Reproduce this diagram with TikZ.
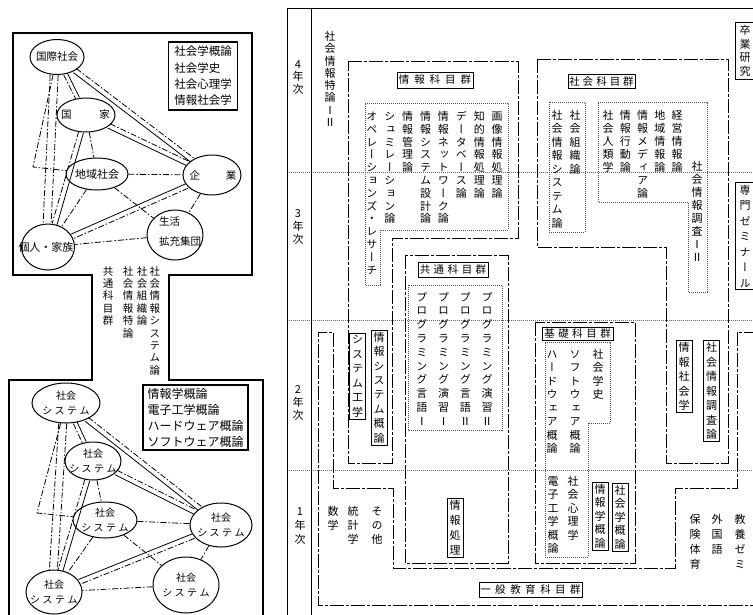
\documentclass[tikz,border=0pt]{standalone}
\usepackage{fontspec}
\usetikzlibrary{shapes.geometric}
\newfontfamily\jp{Noto Sans CJK JP}
\newfontfamily\vjp[RawFeature=+vert]{Noto Sans CJK JP}
\newdimen\lsk
\makeatletter
\def\vt@loop#1{\ifx#1\relax\else\hbox to 1em{\hss#1\hss}\expandafter\vt@loop\fi}
\newcommand\vtxt[2][13pt]{\vtop{\baselineskip=#1\lineskiplimit=-50pt\lineskip=0pt\vt@loop#2\relax}}
\newcommand\ls[2][3.5pt]{\lsk=#1\relax\ls@a#2\relax}
\def\ls@a#1{#1\ls@b}
\def\ls@b#1{\ifx#1\relax\else\kern\lsk#1\expandafter\ls@b\fi}
\makeatother
\newcommand\cg[1]{\hskip#1\relax}
\tikzset{
  vcol/.style={inner sep=0pt, anchor=north, font=\vjp\fontsize{11}{13}\selectfont},
  vbox/.style={draw, line width=0.6pt, inner xsep=2.5pt, inner ysep=2pt, font=\vjp\fontsize{11}{13}\selectfont},
  hlab/.style={draw, line width=0.6pt, inner sep=1pt, font=\jp\fontsize{10.5}{12}\selectfont},
  grp/.style={line width=0.8pt, dash pattern=on 14pt off 2pt on 3pt off 2pt},
  inbox/.style={line width=0.5pt, dash pattern=on 1pt off 1pt, black!70},
  yrline/.style={line width=0.5pt, dash pattern=on 1pt off 1pt, black!60},
  rfrm/.style={line width=0.9pt},
  lfrm/.style={line width=1.2pt, line join=miter},
  ell/.style 2 args={ellipse, draw, line width=1pt, inner sep=0pt, minimum width=#1, minimum height=#2},
  gtxt/.style={inner sep=0pt, align=center, font=\jp\fontsize{10.5}{13}\selectfont},
  lbox/.style={draw, line width=1.1pt, align=left, inner sep=0pt},
  dd/.style={line width=0.8pt, dash pattern=on 6pt off 2pt on 1.5pt off 2pt},
  sl/.style={line width=0.8pt},
  pp/.style={transform canvas={shift={#1}}}
}
\newcommand\net[7]{%
 \draw[dd,pp={(1.5,-2)}] (#1) -- (#4);%
 \draw[sl,pp={(-1.5,2)}] (#1) -- (#4);%
 \draw[sl,pp={(1.8,-0.9)}] (#1) -- (#2);%
 \draw[dd,pp={(-1.8,0.9)}] (#1) -- (#2);%
 \draw[dd,pp={(-6,0)}] (#1) -- (#6);%
 \draw[dd,pp={(2,0)}] (#1) -- (#6);%
 \draw[dd] (#1) -- (#7) -- (#3);%
 \draw[dd,pp={(1.1,-2.2)}] (#2) -- (#4);%
 \draw[sl,pp={(-1.1,2.2)}] (#2) -- (#4);%
 \draw[dd] (#2) -- (#3);%
 \draw[sl,pp={(2.4,0.7)}] (#2) -- (#6);%
 \draw[dd,pp={(-2.4,-0.7)}] (#2) -- (#6);%
 \draw[dd] (#3) -- (#4);%
 \draw[dd] (#3) -- (#6);%
 \draw[dd] (#3) -- (#5);%
 \draw[dd] (#4) -- (#5);%
 \draw[sl,pp={(-1,-2.3)}] (#4) -- (#6);%
 \draw[dd,pp={(1,2.3)}] (#4) -- (#6);%
 \draw[dd] (#5) -- (#6);%
}
\begin{document}
\begin{tikzpicture}[x=1pt,y=-1pt]
\path[use as bounding box, fill=white] (0,0) rectangle (753,614);
% ---------------- left panel ----------------
\draw[lfrm] (9,616) -- (9,380) -- (92,380) -- (92,275) -- (13,275) -- (13,33) -- (252,33) -- (252,275) -- (169,275) -- (169,380) -- (263,380) -- (263,616);
% upper network
\node[ell={54}{35}] (A) at (57,57) {};
\node[ell={58}{34}] (B) at (86,115) {};
\node[ell={62}{32}] (C) at (97,174) {};
\node[ell={58}{40}] (D) at (212,175) {};
\node[ell={56}{50}] (E) at (175,235) {};
\node[ell={53}{46}] (F) at (48,247) {};
\coordinate (Ae) at (33,167);
\net{A}{B}{C}{D}{E}{F}{Ae}
\node[gtxt] (At) at (A) {国際社会};
\node[gtxt] (Bt) at (85.5,115) {国\hspace{28pt}家};
\node[gtxt, font=\jp\fontsize{11}{13}\selectfont] (Ct) at (C) {地域社会};
\node[gtxt] (Dt) at (213,175) {企\hspace{26pt}業};
\node[gtxt, align=left, font=\jp\fontsize{10.5}{20}\selectfont] (Et) at (180,232) {生活\\拡充集団};
\node[gtxt, font=\jp\fontsize{11}{13}\selectfont] (Ft) at (46,247) {個人・家族};
\node[lbox, font=\jp\fontsize{11.5}{16.3}\selectfont, minimum width=69, minimum height=68] (K1) at (203,76) {社会学概論\\社会学史\\社会心理学\\情報社会学};
% neck text
\node[vcol, font=\vjp\fontsize{10.5}{12}\selectfont] (Nk) at (131.5,266) {\vtxt[12.4pt]{共通科目群}\cg{9.5pt}\vtxt[12.4pt]{社会情報特論}\cg{3.5pt}\vtxt[12.4pt]{社会組織論}\cg{2.5pt}\vtxt[12.4pt]{社会情報システム論}};
% lower network
\node[ell={68}{40}] (S1) at (66,403) {};
\node[ell={56}{38}] (S2) at (93,461) {};
\node[ell={64}{36}] (S3) at (105,520) {};
\node[ell={62}{44}] (S4) at (221,525) {};
\node[ell={66}{56}] (S5) at (186,585) {};
\node[ell={56}{44}] (S6) at (54,592) {};
\coordinate (Se) at (37,513);
\net{S1}{S2}{S3}{S4}{S5}{S6}{Se}
\foreach \s in {S1,S2,S3,S4,S5,S6}
  \node[gtxt, font=\jp\fontsize{10}{15}\selectfont] (\s t) at (\s) {社会\\\ls[2.5pt]{システム}};
\node[lbox, font=\jp\fontsize{12}{16}\selectfont, minimum width=105, minimum height=65] (K2) at (195.5,417.5) {情報学概論\\電子工学概論\\ハードウェア概論\\ソフトウェア概論};
% ---------------- right panel ----------------
\foreach \yy in {172,320,470} \draw[yrline] (287,\yy) -- (753,\yy);
\draw[rfrm] (755,8) -- (287,8) -- (287,616);
\draw[rfrm] (311,8) -- (311,616);
% group outlines
\draw[grp] (348,61) -- (518,61) -- (518,238) -- (392,238) -- (392,463) -- (348,463) -- cycle;
\draw[grp] (405,255) rectangle (508,563);
\draw[grp] (537,59) -- (728,59) -- (728,463) -- (666,463) -- (666,247) -- (537,247) -- cycle;
\draw[grp] (535,322) rectangle (635,563);
\draw[grp] (758,332) -- (737,332) -- (737,488) -- (675,488) -- (675,568) -- (393,568) -- (393,488) -- (333,488) -- (333,332) -- (318,332) -- (318,605) -- (758,605);
% dotted inner boxes
\draw[inbox] (365,103) -- (508,103) -- (508,230) -- (380,230) -- (380,285) -- (365,285) -- cycle;
\draw[inbox] (549,102) rectangle (585,232);
\draw[inbox] (598,102) -- (707,102) -- (707,292) -- (688,292) -- (688,202) -- (598,202) -- cycle;
\draw[inbox] (408,285) rectangle (502,430);
\draw[inbox] (545,342) -- (610,342) -- (610,423) -- (588,423) -- (588,557) -- (545,557) -- cycle;
% year labels
\node[vcol] (Y4) at (298,60) {\vtxt[12.5pt]{4年次}};
\node[vcol] (Y3) at (298,209) {\vtxt[13pt]{3年次}};
\node[vcol] (Y2) at (298,385) {\vtxt[13pt]{2年次}};
\node[vcol] (Y1) at (300,507) {\vtxt[14pt]{1年次}};
% group labels
\node[hlab, minimum width=76, minimum height=16] (Lj) at (435,80) {\ls[5pt]{情報科目群}};
\node[hlab, minimum width=67, minimum height=14] (Ls) at (601.5,81.5) {\ls[3pt]{社会科目群}};
\node[hlab, minimum width=70, minimum height=15] (Lk) at (453,269.5) {\ls[3.5pt]{共通科目群}};
\node[hlab, minimum width=71, minimum height=13] (Lb) at (577.5,333.5) {\ls[3.5pt]{基礎科目群}};
\node[hlab, minimum width=103, minimum height=15] (Lg) at (530.5,589.5) {\ls[4.5pt]{一般教育科目群}};
% columns
\node[vcol] (Tk) at (330,31) {\vtxt[12.3pt]{社会情報特論ⅠⅡ}};
\node[vcol] (Jc) at (434.5,111) {\vtxt[12.8pt]{オペレーションズ・レサーチ}\cg{6.9pt}\vtxt[12.8pt]{シュミレーション論}\cg{6.9pt}\vtxt[12.8pt]{情報管理論}\cg{6.9pt}\vtxt[12.8pt]{情報システム設計論}\cg{6.9pt}\vtxt[12.8pt]{情報ネットワーク論}\cg{6.9pt}\vtxt[12.8pt]{データベース論}\cg{6.9pt}\vtxt[12.8pt]{知的情報処理論}\cg{6.9pt}\vtxt[12.8pt]{画像情報処理論}};
\node[vcol] (Kc) at (454.5,292) {\vtxt[13.8pt]{プログラミング言語Ⅰ}\cg{10.7pt}\vtxt[13.8pt]{プログラミング演習Ⅰ}\cg{10.7pt}\vtxt[13.8pt]{プログラミング言語Ⅱ}\cg{10.7pt}\vtxt[13.8pt]{プログラミング演習Ⅱ}};
\node[vcol] (Sa) at (566,110) {\vtxt[13.5pt]{社会情報システム論}\cg{7pt}\vtxt[13.5pt]{社会組織論}};
\node[vcol] (Sb) at (642.5,110) {\vtxt[13pt]{社会人類学}\cg{6.25pt}\vtxt[13pt]{情報行動論}\cg{6.25pt}\vtxt[13pt]{情報メディア論}\cg{6.25pt}\vtxt[13pt]{地域情報論}\cg{6.25pt}\vtxt[13pt]{経営情報論}};
\node[vcol] (Sc) at (697,161) {\vtxt[13pt]{社会情報調査ⅠⅡ}};
\node[vcol] (Ka) at (575,349) {\vtxt[13.5pt]{ハードウェア概論}\cg{12pt}\vtxt[13.5pt]{ソフトウェア概論}\cg{12pt}\vtxt[13.5pt]{社会学史}};
\node[vcol] (Kb) at (563,476) {\vtxt[13.5pt]{電子工学概論}\cg{9pt}\vtxt[13.5pt]{社会心理学}};
\node[vcol] (Ip) at (355,506) {\vtxt[14pt]{数学}\cg{9pt}\vtxt[14pt]{統計学}\cg{13pt}\vtxt[14pt]{その他}};
\node[vcol] (Iq) at (717.5,514) {\vtxt[15pt]{保険体育}\cg{11pt}\vtxt[15pt]{外国語}\cg{12pt}\vtxt[15pt]{教養ゼミ}};
% boxed single columns
\node[vbox] (Bsk) at (357.5,376.5) {\vtxt[14.5pt]{システム工学}};
\node[vbox] (Bjsg) at (379,387.5) {\vtxt[14.4pt]{情報システム概論}};
\node[vbox] (Bjsh) at (684,376.5) {\vtxt[14.5pt]{情報社会学}};
\node[vbox] (Bsjc) at (711.5,391) {\vtxt[14.5pt]{社会情報調査論}};
\node[vbox] (Bjg) at (600,516) {\vtxt[13.5pt]{情報学概論}};
\node[vbox] (Bsg) at (620,517) {\vtxt[13.5pt]{社会学概論}};
\node[vbox] (Bjs) at (455,527.5) {\vtxt[15pt]{情報処理}};
\node[vbox, inner xsep=4pt, inner ysep=3.2pt] (Bsot) at (745,51) {\vtxt[13.5pt]{卒業研究}};
\node[vbox, inner xsep=4pt] (Bsem) at (745,236) {\vtxt[15.5pt]{専門ゼミナール}};
\end{tikzpicture}
\end{document}
